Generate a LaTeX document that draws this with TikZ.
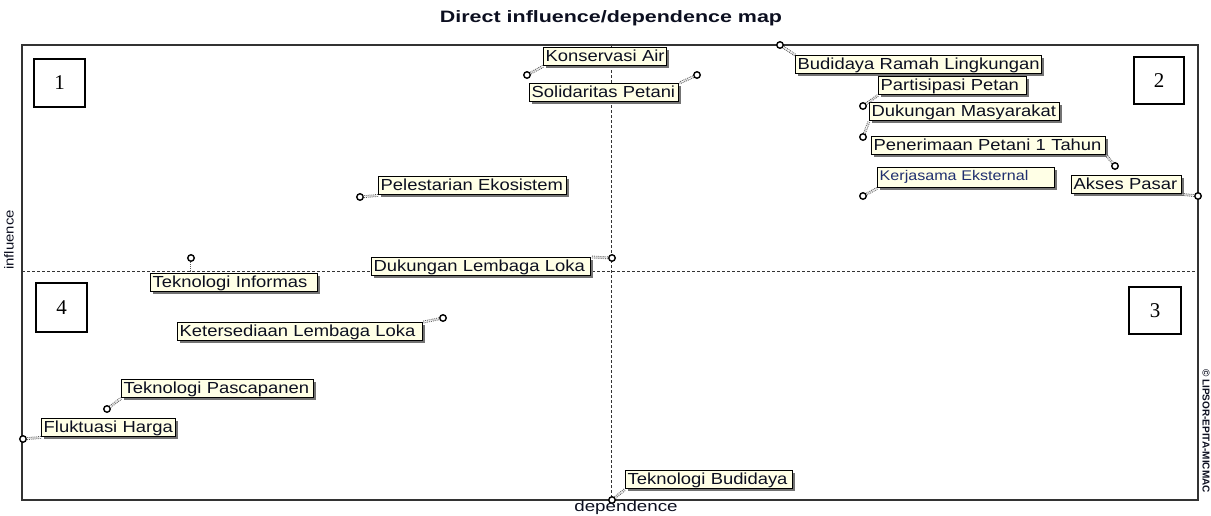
\documentclass[tikz,border=0pt]{standalone}
\usepackage{fontspec}
\setmainfont{Liberation Sans}
\newfontfamily\labfont[FakeStretch=1.15]{Liberation Sans}
\newfontfamily\titfont[FakeStretch=1.3]{Liberation Sans}
\newfontfamily\depfont[FakeStretch=1.25]{Liberation Sans}
\newfontfamily\numfont{Liberation Serif}
\usetikzlibrary{shadows}
\definecolor{labfill}{HTML}{FFFFE6}
\definecolor{labtext}{HTML}{0C0F20}
\definecolor{kertext}{HTML}{1F2F6F}
\begin{document}
\begin{tikzpicture}[x=1pt,y=-1pt,
  lbl/.style={draw=black, line width=1.4pt, fill=labfill, text=labtext,
    inner xsep=2pt, inner ysep=1pt, text height=13pt, text depth=3pt,
    anchor=north west, align=left, font=\labfont\fontsize{16}{16}\selectfont,
    drop shadow={shadow xshift=2pt, shadow yshift=-2pt, fill=black!55, opacity=1}},
  pnt/.style={circle, draw=black, line width=1.4pt, fill=white, inner sep=0pt, minimum size=6.5pt},
  conn/.style={draw=black!65, densely dotted, line width=0.9pt, double=white, double distance=1pt},
  quad/.style={draw=black, line width=2pt, fill=white, anchor=north west, inner sep=0pt,
    font=\numfont\fontsize{21}{21}\selectfont},
  axis/.style={draw=black!80, dash pattern=on 3pt off 2pt, line width=0.8pt}]
\useasboundingbox (0,0) rectangle (1211,515);
% frame and axes
\draw[line width=1.4pt, draw=black!80] (22,45) rectangle (1198,500);
\draw[axis] (611,45) -- (611,500);
\draw[axis] (22,271) -- (1198,271);
% labels
\node[lbl, text width=119pt] (l1) at (543,47) {Konservasi Air};
\node[lbl, text width=145pt] (l2) at (529,83) {Solidaritas Petani};
\node[lbl, text width=242pt] (l3) at (795,55) {Budidaya Ramah Lingkungan};
\node[lbl, text width=144pt] (l4) at (878,76) {Partisipasi Petan};
\node[lbl, text width=186pt] (l5) at (869,102) {Dukungan Masyarakat};
\node[lbl, text width=230pt] (l6) at (871,136) {Penerimaan Petani 1 Tahun};
\node[lbl, text width=173pt, text=kertext, font=\labfont\fontsize{14}{14}\selectfont,
      text height=12pt, text depth=6pt] (l7) at (877,167) {Kerjasama Eksternal};
\node[lbl, text width=106pt] (l8) at (1071,175) {Akses Pasar};
\node[lbl, text width=184pt] (l9) at (378,176) {Pelestarian Ekosistem};
\node[lbl, text width=215pt] (l10) at (371,257) {Dukungan Lembaga Loka};
\node[lbl, text width=163pt] (l11) at (150,273) {Teknologi Informas};
\node[lbl, text width=241pt] (l12) at (177,322) {Ketersediaan Lembaga Loka};
\node[lbl, text width=188pt] (l13) at (121,379) {Teknologi Pascapanen};
\node[lbl, text width=130pt] (l14) at (41,418) {Fluktuasi Harga};
\node[lbl, text width=163pt] (l15) at (625,470) {Teknologi Budidaya};
% points
\node[pnt] (p1) at (527,75) {};
\node[pnt] (p2) at (697,75) {};
\node[pnt] (p3) at (780,45) {};
\node[pnt] (p4) at (863,106) {};
\node[pnt] (p5) at (863,137) {};
\node[pnt] (p6) at (1115,166) {};
\node[pnt] (p7) at (863,196) {};
\node[pnt] (p8) at (1198,196) {};
\node[pnt] (p9) at (360,197) {};
\node[pnt] (p10) at (612,258) {};
\node[pnt] (p11) at (191,258) {};
\node[pnt] (p12) at (443,318) {};
\node[pnt] (p13) at (107,409) {};
\node[pnt] (p14) at (23,439) {};
\node[pnt] (p15) at (612,500) {};
% connectors
\draw[conn] (p1) -- (l1.south west);
\draw[conn] (p2) -- (l2.north east);
\draw[conn] (p3) -- (l3.north west);
\draw[conn] (p4) -- (l4.south west);
\draw[conn] (p5) -- (l5.south west);
\draw[conn] (p6) -- (l6.south east);
\draw[conn] (p7) -- (l7.south west);
\draw[conn] (p8) -- (l8.south east);
\draw[conn] (p9) -- (l9.south west);
\draw[conn] (p10) -- (l10.north east);
\draw[conn] (p11) -- (p11 |- l11.north);
\draw[conn] (p12) -- (l12.north east);
\draw[conn] (p13) -- (l13.south west);
\draw[conn] (p14) -- (l14.south west);
\draw[conn] (p15) -- (l15.south west);
% quadrant boxes
\node[quad, minimum width=51pt, minimum height=48pt] (q1) at (33,58) {1};
\node[quad, minimum width=50pt, minimum height=47pt] (q2) at (1133,56) {2};
\node[quad, minimum width=52pt, minimum height=47pt] (q3) at (1128,286) {3};
\node[quad, minimum width=51pt, minimum height=49pt] (q4) at (35,282) {4};
% texts
\node[font=\titfont\bfseries\fontsize{16.5}{16.5}\selectfont, text=labtext] (title) at (611,18) {Direct influence/dependence map};
\node[font=\labfont\fontsize{13}{13}\selectfont, rotate=90, text=labtext] (infl) at (9,240) {influence};
\node[font=\depfont\fontsize{15}{15}\selectfont, text=labtext] (dep) at (626,508) {dependence};
\node[font=\bfseries\fontsize{10}{10}\selectfont, rotate=-90, text=labtext] (copy) at (1206,431) {© LIPSOR-EPITA-MICMAC};
\end{tikzpicture}
\end{document}
